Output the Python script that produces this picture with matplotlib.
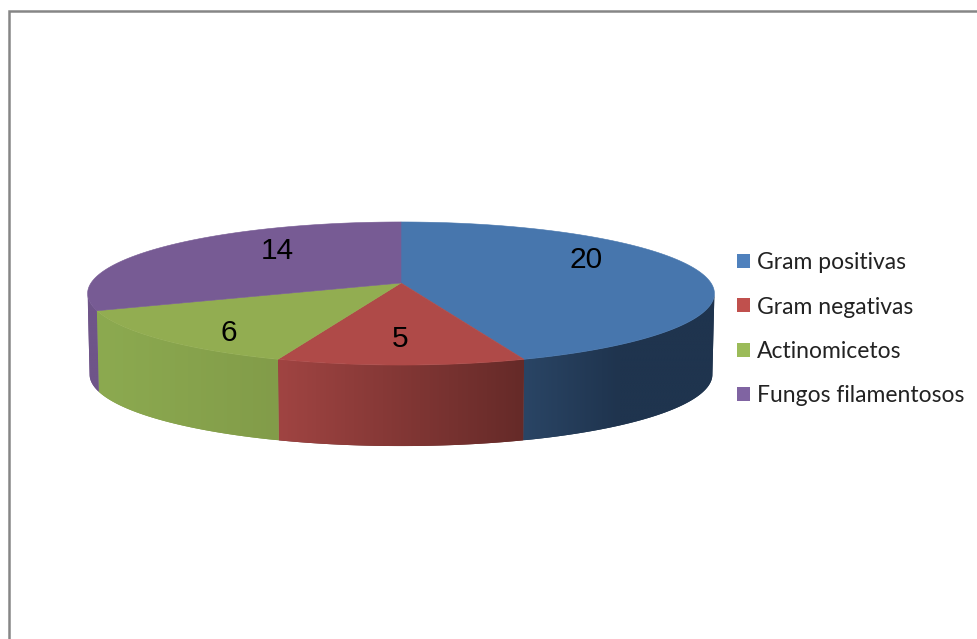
import numpy as np
import matplotlib
matplotlib.use("Agg")
import matplotlib.pyplot as plt
from matplotlib.colors import LinearSegmentedColormap
from matplotlib.patches import Patch, Polygon

categories = ["Gram positivas", "Gram negativas", "Actinomicetos", "Fungos filamentosos"]
values = [20, 5, 6, 14]

top_colors = ["#4776AD", "#AF4A48", "#92AD51", "#775B94"]
legend_colors = ["#4F81BD", "#C0504D", "#9BBB59", "#8064A2"]
side_colors = [("#2A4565", "#1F344E", "#1F344E"), ("#A04442", "#652A28"), ("#8CAA50", "#829C49"), ("#6F5589", "#6F5589")]
label_xy = [(586, 260), (400, 339), (229, 333), (277, 251)]

CX, CY, K = 401, 283, 310
P_A, P_C = -28.4, 0.147   # perspective of the disc plane
DEPTH = 81
WIDEST = np.degrees(np.arccos(-P_C))   # angle where the disc reaches its right edge


def project(angle, r=1.0, k=K):    # angle in degrees, clockwise from the top
    u = r * np.sin(np.radians(angle))
    v = r * np.cos(np.radians(angle))
    w = P_C * v + 1
    return CX + k * u / w, (P_A * v + CY) / w


fig = plt.figure(figsize=(9.78, 6.39), dpi=100)
ax = fig.add_axes([0, 0, 1, 1])
ax.axis("off")

# chart frame, only top and left are visible
ax.plot([9, 9, 978], [639, 11, 11], color="#868686", lw=1.8, solid_joinstyle="miter")

edges = np.concatenate([[0], np.cumsum(values)]) / sum(values) * 360

# side wall: flat polygon for clean edges, gradient image clipped on top of it
for i in range(len(values)):
    lo, hi = max(edges[i], WIDEST), min(edges[i + 1], 360 - WIDEST)
    if lo >= hi:
        continue
    angles = np.linspace(lo, hi, 120)
    xs, ys = project(angles)
    xb, yb = project(angles, k=K - 2)
    wall = np.c_[np.r_[xs, xb[::-1]], np.r_[ys, yb[::-1] + DEPTH]]
    ax.add_patch(Polygon(wall, closed=True, facecolor=side_colors[i][-1], edgecolor="none", zorder=1))
    shade = LinearSegmentedColormap.from_list("shade", side_colors[i])
    x0, x1, y0, y1 = wall[:, 0].min(), wall[:, 0].max(), wall[:, 1].min(), wall[:, 1].max()
    img = ax.imshow(np.linspace(0, 1, 256)[None, :], cmap=shade, extent=(x0, x1, y1, y0),
                    aspect="auto", interpolation="bilinear", zorder=2)
    img.set_clip_path(Polygon(wall, closed=True, transform=ax.transData))

# top of the pie
for i in range(len(values)):
    angles = np.linspace(edges[i], edges[i + 1], 200)
    xs, ys = project(angles)
    ax.fill(np.r_[CX, xs], np.r_[CY, ys], color=top_colors[i], lw=0.4, zorder=3)

ax.set_xlim(0, 978)
ax.set_ylim(639, 0)

for value, (x, y) in zip(values, label_xy):
    ax.text(x, y, str(value), ha="center", va="center", fontsize=21.5,
            family="Liberation Sans", color="black", zorder=4)

handles = [Patch(facecolor=c, edgecolor="none") for c in legend_colors]
ax.legend(handles, categories, loc="upper left", bbox_to_anchor=(728 / 978, 1 - 243 / 639),
          frameon=False, prop={"family": "Lato", "size": 16.5}, handlelength=0.57, handleheight=0.57,
          handletextpad=0.3, labelspacing=1.02, borderpad=0.4, borderaxespad=0, labelcolor="#222222")

fig.savefig("out.png", dpi=100)
